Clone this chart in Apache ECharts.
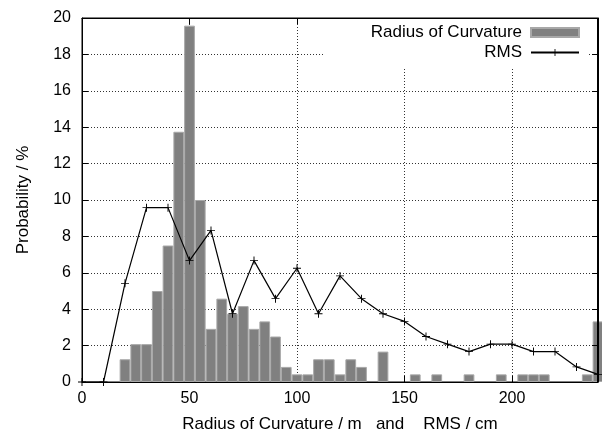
<!DOCTYPE html>
<html>
<head>
<meta charset="utf-8">
<script src="https://cdn.jsdelivr.net/npm/echarts@6/dist/echarts.min.js"></script>
<style>html,body{margin:0;padding:0;background:#fff;overflow:hidden}#c{width:602px;height:438px}</style>
</head>
<body>
<div id="c"></div>
<script>
// Histogram of radius of curvature (bin centres, m) and probability (%)
var radiusBins = [20, 25, 30, 35, 40, 45, 50, 55, 60, 65, 70, 75, 80, 85, 90, 95, 100, 105, 110, 115, 120, 125, 130, 140, 155, 165, 180, 195, 205, 210, 215, 235, 240];
var radiusProb = [1.25, 2.08, 2.08, 5.0, 7.5, 13.75, 19.58, 10.0, 2.92, 4.58, 3.75, 4.17, 2.92, 3.33, 2.5, 0.83, 0.42, 0.42, 1.25, 1.25, 0.42, 1.25, 0.83, 1.67, 0.42, 0.42, 0.42, 0.42, 0.42, 0.42, 0.42, 0.42, 3.33];
// RMS distribution (cm) and probability (%)
var rmsX = [0, 10, 20, 30, 40, 50, 60, 70, 80, 90, 100, 110, 120, 130, 140, 150, 160, 170, 180, 190, 200, 210, 220, 230, 240];
var rmsProb = [0, 0, 5.42, 9.58, 9.58, 6.67, 8.33, 3.75, 6.67, 4.58, 6.25, 3.75, 5.83, 4.58, 3.75, 3.33, 2.5, 2.08, 1.67, 2.08, 2.08, 1.67, 1.67, 0.83, 0.42];
var xMin = 0, xMax = 240, xTickInterval = 50;
var yMin = 0, yMax = 20, yTickInterval = 2;

var barData = radiusBins.map(function (x, i) { return [x, radiusProb[i]]; });
var lineData = rmsX.map(function (x, i) { return [x, rmsProb[i]]; });

var FONT = '"Liberation Sans", Arial, sans-serif';
var plus = 'path://M-0.12,-1H0.12V-0.12H1V0.12H0.12V1H-0.12V0.12H-1V-0.12H-0.12Z';
var split = { show: true, lineStyle: { color: '#333', width: 1, type: [1, 2] } };
var tick = { show: true, inside: true, length: 6, lineStyle: { color: '#000' } };
var aline = { show: true, onZero: false, lineStyle: { color: '#000', width: 1 } };

var chart = echarts.init(document.getElementById('c'), null, { renderer: 'canvas' });
chart.setOption({
  animation: false,
  backgroundColor: '#fff',
  textStyle: { fontFamily: FONT },
  grid: { left: 82, right: 4, top: 18, bottom: 56, containLabel: false, outerBoundsMode: 'none',
          show: true, borderColor: '#000', borderWidth: 1, backgroundColor: 'transparent' },
  legend: {
    orient: 'vertical',
    right: 13,
    top: 19,
    align: 'right',
    itemWidth: 48,
    itemHeight: 9,
    itemGap: 3,
    padding: [5, 9, 6, 46],
    backgroundColor: '#fff',
    textStyle: { fontFamily: FONT, fontSize: 17, color: '#000', padding: [0, 4, 0, 0] },
    data: [
      { name: 'Radius of Curvature', icon: 'rect' },
      { name: 'RMS' }
    ]
  },
  xAxis: [{
    type: 'value', min: xMin, max: xMax, interval: xTickInterval,
    name: 'Radius of Curvature / m   and    RMS / cm',
    nameLocation: 'middle', nameGap: 34,
    nameTextStyle: { fontFamily: FONT, fontSize: 17, color: '#000' },
    axisLine: aline, axisTick: tick,
    axisLabel: { fontFamily: FONT, fontSize: 16, color: '#000', margin: 9, showMaxLabel: false },
    splitLine: split
  }, {
    type: 'value', min: xMin, max: xMax, interval: xTickInterval, position: 'top',
    axisLine: aline, axisTick: tick,
    axisLabel: { show: false }, splitLine: { show: false }
  }],
  yAxis: [{
    type: 'value', min: yMin, max: yMax, interval: yTickInterval,
    name: 'Probability / %', nameLocation: 'middle', nameGap: 50, nameRotate: 90,
    nameTextStyle: { fontFamily: FONT, fontSize: 17, color: '#000' },
    axisLine: aline, axisTick: tick,
    axisLabel: { fontFamily: FONT, fontSize: 16, color: '#000', margin: 11 },
    splitLine: split
  }, {
    type: 'value', min: yMin, max: yMax, interval: yTickInterval, position: 'right',
    axisLine: aline, axisTick: tick, z: 10,
    axisLabel: { show: false }, splitLine: { show: false }
  }],
  series: [{
    name: 'Radius of Curvature',
    type: 'bar',
    xAxisIndex: 0, yAxisIndex: 0,
    data: barData,
    barWidth: '100%',
    clip: true,
    itemStyle: { color: '#808080', borderColor: '#a8a8a8', borderWidth: 1 },
    z: 2
  }, {
    name: 'RMS',
    type: 'line',
    xAxisIndex: 0, yAxisIndex: 0,
    data: lineData,
    symbol: plus,
    symbolSize: 8,
    showAllSymbol: true,
    clip: false,
    lineStyle: { color: '#000', width: 1.2 },
    itemStyle: { color: '#000' },
    markLine: {
      silent: true,
      symbol: ['none', 'none'],
      label: { show: false },
      lineStyle: { color: '#000', width: 1, type: 'solid' },
      emphasis: { disabled: true },
      data: [{ xAxis: xMax }]
    },
    z: 3
  }]
});

// Right frame edge, placed through the axes' own scale
var pb = chart.convertToPixel({ xAxisIndex: 0, yAxisIndex: 0 }, [xMax, yMin]);
var pt = chart.convertToPixel({ xAxisIndex: 0, yAxisIndex: 0 }, [xMax, yMax]);
if (pb && pt) {
  var rx = Math.round(pb[0]) - 0.5;
  chart.setOption({
    graphic: [{
      type: 'line', z: 100, silent: true,
      shape: { x1: rx, y1: pt[1], x2: rx, y2: pb[1] },
      style: { stroke: '#000', lineWidth: 1 }
    }]
  });
}
</script>
</body>
</html>
